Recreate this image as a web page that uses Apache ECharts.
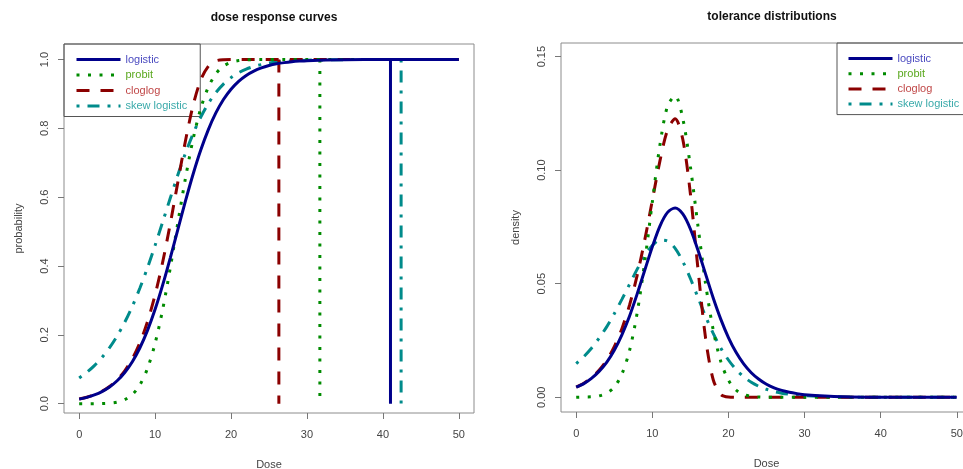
<!DOCTYPE html>
<html>
<head>
<meta charset="utf-8">
<script src="https://cdn.jsdelivr.net/npm/echarts@6/dist/echarts.min.js"></script>
<style>
  html, body { margin: 0; padding: 0; background: #fff; }
  #chart { width: 963px; height: 469px; }
</style>
</head>
<body>
<div id="chart"></div>
<script>
// values
var dose = [0, 1, 2, 3, 4, 5, 6, 7, 8, 9, 10, 11, 12, 13, 14, 15, 16, 17, 18, 19, 20,
  21, 22, 23, 24, 25, 26, 27, 28, 29, 30, 35, 40, 45, 50]

var logisticCdf = [0.0133, 0.0185, 0.0256, 0.0353, 0.0486, 0.0666, 0.0906, 0.122, 0.1625, 0.213, 0.2742,
  0.3452, 0.4239, 0.5067, 0.589, 0.6667, 0.7363, 0.7957, 0.8447, 0.8836, 0.9137,
  0.9366, 0.9538, 0.9664, 0.9757, 0.9825, 0.9874, 0.9909, 0.9935, 0.9953, 0.9966, 0.9994, 0.9999, 1, 1]
var probitCdf = [0, 0, 0.0002, 0.0005, 0.0017, 0.0047, 0.0117, 0.0266, 0.0548, 0.1026, 0.1753,
  0.2743, 0.3949, 0.5266, 0.6554, 0.7683, 0.857, 0.9192, 0.9585, 0.9806, 0.9918,
  0.9969, 0.9989, 0.9997, 0.9999, 1, 1, 1, 1, 1, 1, 1, 1, 1, 1]
var cloglogCdf = [0.0135, 0.0188, 0.0261, 0.0362, 0.0502, 0.0693, 0.0954, 0.1306, 0.1774, 0.2386, 0.3164,
  0.4118, 0.5233, 0.6444, 0.7638, 0.8665, 0.9398, 0.9802, 0.9958, 0.9995, 1,
  1, 1, 1, 1, 1, 1, 1, 1, 1, 1, 1, 1, 1, 1]
var skewCdf = [0.0749, 0.0912, 0.1108, 0.1346, 0.163, 0.1969, 0.2367, 0.2831, 0.3361, 0.3954, 0.4601,
  0.5283, 0.5975, 0.665, 0.7279, 0.7841, 0.8322, 0.8719, 0.9037, 0.9285, 0.9473,
  0.9615, 0.972, 0.9797, 0.9853, 0.9895, 0.9924, 0.9945, 0.9961, 0.9972, 0.998, 0.9996, 0.9999, 1, 1]

var logisticPdf = [0.0044, 0.006, 0.0083, 0.0114, 0.0154, 0.0207, 0.0275, 0.0357, 0.0454, 0.0559, 0.0663,
  0.0754, 0.0814, 0.0833, 0.0807, 0.0741, 0.0647, 0.0542, 0.0437, 0.0343, 0.0263,
  0.0198, 0.0147, 0.0108, 0.0079, 0.0057, 0.0041, 0.003, 0.0022, 0.0016, 0.0011, 0.0002, 0, 0, 0]
var probitPdf = [0, 0.0001, 0.0002, 0.0006, 0.0018, 0.0045, 0.0102, 0.0205, 0.037, 0.0596, 0.086,
  0.1111, 0.1283, 0.1327, 0.1228, 0.1016, 0.0753, 0.0499, 0.0296, 0.0157, 0.0075,
  0.0032, 0.0012, 0.0004, 0.0001, 0, 0, 0, 0, 0, 0, 0, 0, 0, 0]
var cloglogPdf = [0.0045, 0.0062, 0.0086, 0.0119, 0.0163, 0.0223, 0.0302, 0.0405, 0.0536, 0.0692, 0.0867,
  0.1041, 0.1177, 0.1226, 0.1136, 0.0896, 0.0564, 0.0259, 0.0077, 0.0012, 0.0001,
  0, 0, 0, 0, 0, 0, 0, 0, 0, 0, 0, 0, 0, 0]
var skewPdf = [0.0148, 0.0179, 0.0216, 0.026, 0.031, 0.0368, 0.0431, 0.0497, 0.0563, 0.0622, 0.0668,
  0.0692, 0.0688, 0.0656, 0.0598, 0.0523, 0.0439, 0.0356, 0.0281, 0.0216, 0.0164,
  0.0122, 0.009, 0.0066, 0.0048, 0.0035, 0.0025, 0.0018, 0.0013, 0.0009, 0.0007, 0.0001, 0, 0, 0]

// dose where each cdf curve drops to 0 and back (vertical spikes)
var dropDose = [41.0, 31.7, 26.3, 42.4]

var models = ['logistic', 'probit', 'cloglog', 'skew logistic']
var doseTicks = [0, 10, 20, 30, 40, 50]
var probTicks = [0, 0.2, 0.4, 0.6, 0.8, 1.0]
var densTicks = [0, 0.05, 0.10, 0.15]

var lineColors = ['#00008b', '#008b00', '#8b0000', '#008b8b']
var textColors = ['#4b4bc0', '#5aa81e', '#c04848', '#3aaaaa']
var dashes = ['solid', [3, 8.5], [13, 11], [3, 8, 12, 8]]
var cdfs = [logisticCdf, probitCdf, cloglogCdf, skewCdf]
var pdfs = [logisticPdf, probitPdf, cloglogPdf, skewPdf]

function pairs(ys) {
  return dose.map(function (d, i) { return [d, ys[i]] })
}

var font = 'Liberation Sans, Arial, sans-serif'
var boxColor = '#8c8c8c'

function xAxis(gridIndex) {
  return {
    type: 'value',
    gridIndex: gridIndex,
    min: -2,
    max: 52,
    name: 'Dose',
    nameLocation: 'middle',
    nameGap: 46,
    nameTextStyle: { color: '#444', fontSize: 11, fontFamily: font },
    splitLine: { show: false },
    axisLine: { show: false, onZero: false },
    axisTick: { show: true, length: 6, customValues: doseTicks, lineStyle: { color: '#777' } },
    axisLabel: { customValues: doseTicks, color: '#444', fontSize: 11, fontFamily: font, margin: 16 }
  }
}

function yAxis(gridIndex, min, max, ticks, digits, title) {
  return {
    type: 'value',
    gridIndex: gridIndex,
    min: min,
    max: max,
    name: title,
    nameLocation: 'middle',
    nameGap: 40,
    nameRotate: 90,
    nameTextStyle: { color: '#444', fontSize: 11, fontFamily: font },
    splitLine: { show: false },
    axisLine: { show: false, onZero: false },
    axisTick: { show: true, length: 6, customValues: ticks, lineStyle: { color: '#777' } },
    axisLabel: {
      customValues: ticks,
      rotate: 90,
      color: '#444',
      fontSize: 11,
      fontFamily: font,
      margin: 14,
      formatter: function (v) { return Number(v).toFixed(digits) }
    }
  }
}

var series = []
models.forEach(function (m, k) {
  var style = { color: lineColors[k], width: 3, type: dashes[k], cap: 'butt' }
  series.push({
    name: m, type: 'line', xAxisIndex: 0, yAxisIndex: 0,
    data: pairs(cdfs[k]), showSymbol: false, symbol: 'none', smooth: 0.3,
    itemStyle: { color: lineColors[k] }, lineStyle: style, z: 10 - k
  })
  series.push({
    name: m, type: 'line', xAxisIndex: 0, yAxisIndex: 0,
    data: [[dropDose[k], 1], [dropDose[k], 0]], showSymbol: false, symbol: 'none',
    itemStyle: { color: lineColors[k] }, lineStyle: style, z: 10 - k
  })
  series.push({
    name: m, type: 'line', xAxisIndex: 1, yAxisIndex: 1,
    data: pairs(pdfs[k]), showSymbol: false, symbol: 'none', smooth: 0.3,
    itemStyle: { color: lineColors[k] }, lineStyle: style, z: 10 - k
  })
})

function legend(left, top, padding, gap) {
  return {
    orient: 'vertical',
    left: left,
    top: top,
    padding: padding,
    itemWidth: 44,
    itemHeight: 10,
    itemGap: gap,
    itemTextGap: 12,
    borderColor: '#555',
    borderWidth: 1,
    borderRadius: 0,
    selectedMode: false,
    itemStyle: { opacity: 0 },
    lineStyle: { width: 3 },
    textStyle: { fontSize: 11, fontFamily: font },
    data: models.map(function (m, k) {
      return { name: m, textStyle: { color: textColors[k] } }
    })
  }
}

var chart = echarts.init(document.getElementById('chart'), null, { renderer: 'canvas' })
chart.setOption({
  animation: false,
  backgroundColor: '#fff',
  title: [
    { text: 'dose response curves', left: 269, top: 7, textAlign: 'center',
      textStyle: { fontSize: 12, fontWeight: 'bold', color: '#111', fontFamily: font } },
    { text: 'tolerance distributions', left: 767, top: 6, textAlign: 'center',
      textStyle: { fontSize: 12, fontWeight: 'bold', color: '#111', fontFamily: font } }
  ],
  legend: [
    legend(64, 44, [10, 13, 5, 11], 4.5),
    legend(837, 43, [10, 30, 5, 10], 4.2)
  ],
  grid: [
    { left: 64, top: 44, width: 410, height: 369, show: true, borderColor: boxColor, borderWidth: 1,
      outerBoundsMode: 'none' },
    { left: 561, top: 43, width: 411, height: 369, show: true, borderColor: boxColor, borderWidth: 1,
      outerBoundsMode: 'none' }
  ],
  xAxis: [xAxis(0), xAxis(1)],
  yAxis: [
    yAxis(0, -0.027, 1.045, probTicks, 1, 'probability'),
    yAxis(1, -0.0065, 0.156, densTicks, 2, 'density')
  ],
  series: series
})
</script>
</body>
</html>
